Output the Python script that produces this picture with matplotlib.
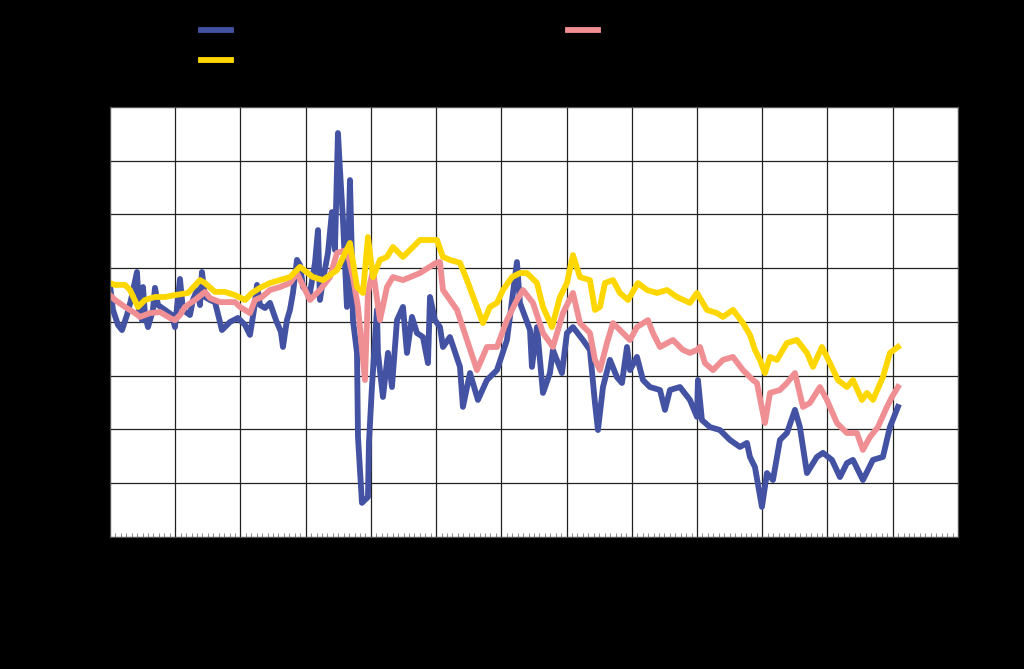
import matplotlib
matplotlib.use("Agg")
import matplotlib.pyplot as plt
import numpy as np
from matplotlib.ticker import MultipleLocator

plt.rcParams["font.family"] = "DejaVu Sans"

start_year = 2005

# series 1 (blue) - years after start, value
blue_t = [0.000, 0.046, 0.123, 0.184, 0.261, 0.322, 0.414, 0.445, 0.491, 0.506, 0.537, 0.583, 0.659, 0.690,
          0.736, 0.843, 0.950, 0.996, 1.073, 1.119, 1.226, 1.272, 1.334, 1.380, 1.410, 1.456, 1.533, 1.610,
          1.717, 1.840, 1.962, 2.070, 2.146, 2.208, 2.254, 2.300, 2.376, 2.453, 2.545, 2.621, 2.652, 2.713,
          2.759, 2.805, 2.867, 2.913, 2.959, 3.066, 3.143, 3.189, 3.219, 3.265, 3.342, 3.403, 3.449, 3.495,
          3.526, 3.572, 3.633, 3.679, 3.710, 3.725, 3.787, 3.802, 3.863, 3.909, 3.955, 3.970, 4.016, 4.093,
          4.108, 4.185, 4.262, 4.323, 4.400, 4.492, 4.553, 4.630, 4.706, 4.798, 4.875, 4.906, 4.982, 5.059,
          5.105, 5.212, 5.366, 5.411, 5.519, 5.641, 5.779, 5.933, 6.086, 6.239, 6.285, 6.439, 6.469, 6.546,
          6.638, 6.745, 6.791, 6.929, 7.006, 7.098, 7.251, 7.358, 7.435, 7.481, 7.558, 7.665, 7.772, 7.849,
          7.926, 7.972, 8.079, 8.171, 8.278, 8.432, 8.508, 8.585, 8.738, 8.891, 8.999, 9.014, 9.075, 9.198,
          9.351, 9.505, 9.658, 9.765, 9.811, 9.888, 9.995, 10.072, 10.164, 10.271, 10.378, 10.501, 10.577,
          10.685, 10.838, 10.930, 11.068, 11.191, 11.298, 11.390, 11.543, 11.697, 11.850, 11.957, 12.080]
blue_v = [93.8, 84.5, 78.9, 77.0, 82.6, 88.2, 98.6, 84.5, 80.7, 93.0, 82.6, 78.1, 84.5, 92.7,
          86.3, 84.5, 82.6, 78.1, 96.0, 84.5, 82.6, 88.2, 91.9, 86.3, 98.6, 89.3, 88.2, 87.4,
          77.0, 80.0, 81.5, 78.9, 75.2, 84.5, 93.8, 86.3, 85.2, 87.1, 80.7, 76.3, 70.7, 80.7,
          84.5, 90.8, 103.1, 101.2, 93.0, 90.8, 102.0, 114.2, 88.2, 95.6, 105.7, 120.9, 106.8, 150.3,
          136.6, 118.0, 85.6, 132.8, 103.1, 80.7, 68.5, 37.2, 12.7, 13.8, 14.9, 35.0, 55.8, 84.5,
          68.5, 52.1, 68.5, 55.8, 80.7, 85.6, 68.5, 81.9, 75.9, 74.4, 64.7, 89.3, 80.7, 78.1,
          70.7, 74.4, 63.3, 48.4, 61.0, 51.0, 58.4, 62.1, 73.3, 102.3, 87.1, 77.0, 63.3, 78.1,
          53.6, 61.0, 69.6, 61.0, 75.9, 78.1, 73.3, 69.6, 49.9, 39.8, 55.8, 65.9, 59.5, 57.3,
          70.7, 62.1, 67.0, 58.4, 55.8, 54.7, 47.3, 54.7, 55.8, 51.0, 44.7, 58.4, 43.5, 40.9,
          39.8, 36.1, 33.5, 35.0, 29.8, 26.0, 11.2, 23.8, 21.2, 36.1, 38.7, 47.3, 40.9,
          23.8, 29.8, 31.3, 28.7, 22.3, 27.5, 28.7, 21.2, 28.7, 29.8, 40.9, 48.4]

# series 2 (pink)
pink_t = [0.000, 0.077, 0.230, 0.383, 0.460, 0.613, 0.767, 0.920, 0.996, 1.073, 1.150, 1.303, 1.456, 1.533,
          1.686, 1.916, 1.993, 2.146, 2.223, 2.330, 2.453, 2.606, 2.759, 2.867, 3.066, 3.219, 3.373, 3.480,
          3.633, 3.725, 3.802, 3.909, 3.955, 4.032, 4.139, 4.246, 4.338, 4.492, 4.752, 4.998, 5.059, 5.105,
          5.320, 5.473, 5.626, 5.779, 5.933, 6.086, 6.239, 6.331, 6.485, 6.638, 6.791, 6.944, 7.098, 7.205,
          7.358, 7.435, 7.512, 7.619, 7.711, 7.864, 7.972, 8.079, 8.247, 8.324, 8.432, 8.631, 8.784, 8.891,
          8.999, 9.045, 9.121, 9.244, 9.397, 9.551, 9.704, 9.857, 9.918, 10.041, 10.118, 10.271, 10.378,
          10.501, 10.624, 10.731, 10.884, 10.991, 11.145, 11.298, 11.451, 11.543, 11.651, 11.773, 11.911,
          11.988, 12.080]
pink_v = [90.0, 88.2, 85.6, 83.3, 81.9, 83.3, 83.7, 81.5, 80.7, 82.6, 85.6, 88.2, 91.2, 88.9,
          87.4, 87.4, 85.6, 83.3, 88.2, 89.3, 91.9, 93.0, 94.5, 98.2, 88.2, 91.9, 96.7, 105.7,
          106.8, 96.7, 85.6, 58.4, 90.8, 99.3, 80.7, 93.0, 96.7, 95.6, 98.2, 102.0, 102.3, 91.9,
          84.5, 73.3, 62.1, 70.7, 70.7, 80.7, 88.2, 91.9, 87.1, 75.9, 70.7, 83.3, 90.8, 79.6,
          75.9, 65.9, 62.1, 72.2, 79.6, 75.9, 73.3, 78.1, 80.7, 75.9, 70.7, 73.3, 69.6, 68.5,
          69.6, 70.7, 64.7, 62.1, 65.9, 67.0, 62.1, 58.4, 57.3, 42.4, 53.6, 54.7, 57.3,
          61.0, 48.4, 49.9, 55.8, 51.0, 42.4, 38.7, 38.7, 32.4, 37.2, 40.9, 48.4,
          52.1, 55.8]

# series 3 (yellow)
yellow_t = [0.000, 0.077, 0.230, 0.307, 0.429, 0.537, 0.690, 0.843, 0.996, 1.196, 1.380, 1.456, 1.610, 1.763,
            1.916, 2.070, 2.177, 2.300, 2.453, 2.606, 2.759, 2.913, 3.112, 3.265, 3.480, 3.679, 3.787, 3.878,
            3.955, 4.032, 4.139, 4.246, 4.338, 4.492, 4.752, 4.906, 5.013, 5.105, 5.212, 5.366, 5.473, 5.626,
            5.718, 5.825, 5.933, 6.025, 6.163, 6.285, 6.393, 6.546, 6.638, 6.776, 6.899, 7.006, 7.098, 7.205,
            7.358, 7.435, 7.512, 7.588, 7.711, 7.818, 7.941, 8.094, 8.232, 8.386, 8.539, 8.692, 8.891, 8.999,
            9.152, 9.305, 9.397, 9.551, 9.704, 9.811, 9.888, 9.964, 10.041, 10.118, 10.225, 10.378, 10.531,
            10.685, 10.777, 10.915, 11.038, 11.160, 11.298, 11.390, 11.528, 11.605, 11.697, 11.850, 11.957,
            12.080]
yellow_v = [94.5, 93.8, 93.8, 91.9, 85.6, 88.2, 89.3, 89.3, 90.0, 90.8, 95.6, 94.5, 91.2, 91.2,
            90.0, 88.2, 90.8, 92.7, 94.5, 95.6, 96.7, 100.5, 96.7, 95.6, 99.3, 109.4, 93.0, 90.8,
            111.6, 96.7, 103.1, 104.2, 107.9, 104.2, 110.5, 110.5, 110.5, 104.2, 103.1, 102.0, 95.6, 85.6,
            79.6, 85.6, 87.1, 91.9, 96.7, 98.2, 98.2, 94.5, 85.6, 78.1, 89.3, 94.5, 104.9, 96.7,
            95.6, 84.5, 85.6, 94.5, 95.6, 90.8, 88.2, 94.5, 91.9, 90.8, 91.9, 89.3, 87.1, 90.8,
            84.5, 83.3, 81.9, 84.5, 79.6, 75.2, 69.6, 65.9, 61.0, 67.0, 65.9, 72.2, 73.3,
            68.5, 63.3, 70.7, 64.7, 58.4, 55.8, 58.4, 51.0, 53.6, 51.0, 59.5, 68.5,
            70.7]

labels = ["Series 1", "Series 3", "Series 2"]

fig = plt.figure(figsize=(10.24, 6.69), dpi=100, facecolor="black")
ax = fig.add_axes([0.1074, 0.1973, 0.8281, 0.6428])
ax.set_facecolor("white")

l1, = ax.plot(start_year + np.array(blue_t), blue_v, color="#4352a3", lw=4.2, label=labels[0])
l2, = ax.plot(start_year + np.array(pink_t), pink_v, color="#ef8f93", lw=4.2, label=labels[2])
l3, = ax.plot(start_year + np.array(yellow_t), yellow_v, color="#ffd700", lw=4.2, label=labels[1])

ax.set_xlim(2005, 2018)
ax.set_ylim(0, 160)
ax.xaxis.set_major_locator(MultipleLocator(1))
ax.xaxis.set_minor_locator(MultipleLocator(1 / 12))
ax.yaxis.set_major_locator(MultipleLocator(20))
ax.grid(True, which="major", color="#222222", lw=0.9)
ax.tick_params(axis="x", which="minor", direction="in", length=3, color="#777777")
ax.tick_params(axis="x", which="major", direction="in", length=0, pad=10)
ax.tick_params(axis="y", pad=8)
ax.tick_params(axis="both", labelcolor="black", colors="black")
for s in ax.spines.values():
    s.set_color("#555555")

fig.legend(handles=[l1, l3, l2], labels=labels, ncol=2, loc="upper left",
           bbox_to_anchor=(0.183, 0.985), frameon=False, handlelength=1.95,
           columnspacing=17.2, labelspacing=0.95, fontsize=11, labelcolor="black")

fig.savefig("out.png", dpi=100, facecolor="black")
